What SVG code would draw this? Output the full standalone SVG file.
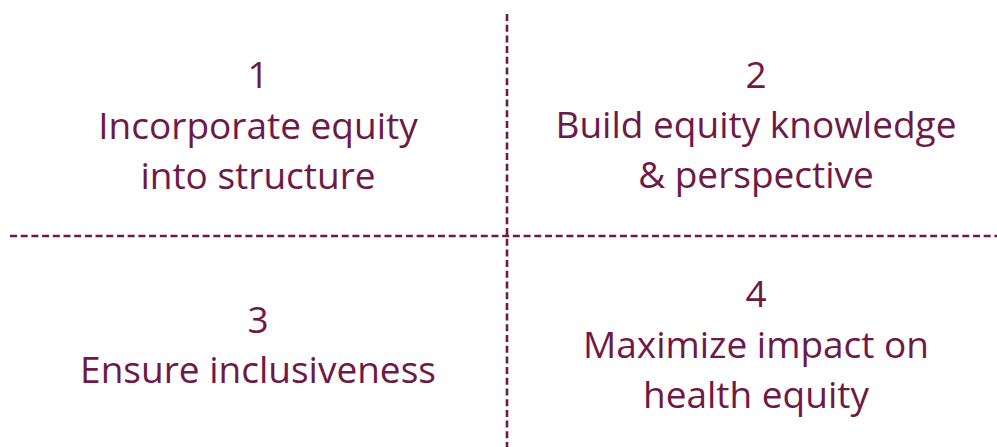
<svg xmlns="http://www.w3.org/2000/svg" width="997" height="447" viewBox="0 0 997 447">
<style>
  .t { font-family: "Open Sans", "Noto Sans", "Liberation Sans", sans-serif; font-size: 37px; fill: #6E1946; text-anchor: middle; }
  .d { stroke: #6E1946; stroke-width: 2.6; stroke-dasharray: 7 3.7; fill: none; }
</style>
<rect width="997" height="447" fill="#ffffff"/>
<g id="connectors">
  <line class="d" x1="10" y1="236" x2="997" y2="236"/>
  <line class="d" x1="507" y1="14" x2="507" y2="447"/>
</g>
<g id="node1">
  <text class="t" x="258" y="88">1</text>
  <text class="t" x="258" y="139">Incorporate equity</text>
  <text class="t" x="258" y="189">into structure</text>
</g>
<g id="node2">
  <text class="t" x="756" y="88">2</text>
  <text class="t" x="756" y="138">Build equity knowledge</text>
  <text class="t" x="756" y="188">&amp; perspective</text>
</g>
<g id="node3">
  <text class="t" x="258" y="333">3</text>
  <text class="t" x="258" y="383">Ensure inclusiveness</text>
</g>
<g id="node4">
  <text class="t" x="756" y="307">4</text>
  <text class="t" x="756" y="358">Maximize impact on</text>
  <text class="t" x="756" y="408">health equity</text>
</g>
</svg>
